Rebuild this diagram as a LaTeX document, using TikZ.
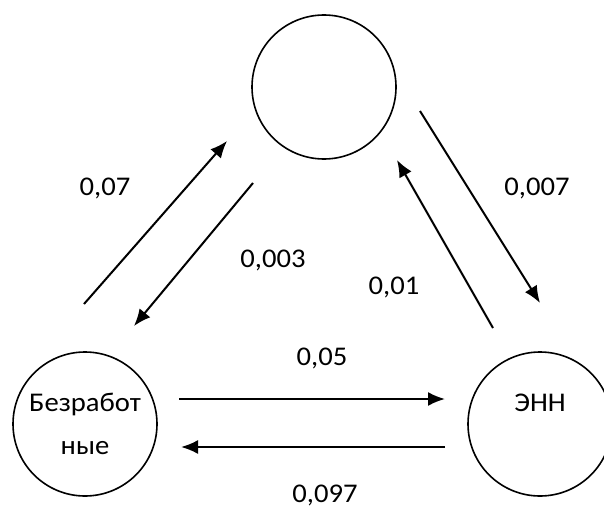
\documentclass[tikz,border=0pt]{standalone}
\usepackage{fontspec}
\setmainfont{Carlito}[FakeStretch=1.06]
\usetikzlibrary{arrows.meta}

\begin{document}
\begin{tikzpicture}[x=1pt, y=-1pt, >={Latex[length=17pt,width=14pt]},
  font=\fontsize{27}{43}\selectfont,
  state/.style={draw, circle, line width=1.6pt, minimum size=144pt, inner sep=0pt, align=center},
  flow/.style={->, line width=2pt}]
  \useasboundingbox (0,0) rectangle (604,511);

  \node[state] (emp) at (324,87) {};
  \node[state] (unemp) at (85,424) {Безработ\\ные};
  \node[state] (enn) at (540,424) {ЭНН\\\phantom{ные}};

  \coordinate (a1) at (84,304);  \coordinate (a2) at (227,141);
  \coordinate (b1) at (253,183); \coordinate (b2) at (134,326);
  \coordinate (c1) at (420,111); \coordinate (c2) at (540,303);
  \coordinate (d1) at (493,328); \coordinate (d2) at (397,160);
  \coordinate (e1) at (179,399); \coordinate (e2) at (445,399);
  \coordinate (f1) at (445,447); \coordinate (f2) at (181,447);

  \draw[flow] (a1) -- (a2);
  \draw[flow] (b1) -- (b2);
  \draw[flow] (c1) -- (c2);
  \draw[flow] (d1) -- (d2);
  \draw[flow] (e1) -- (e2);
  \draw[flow] (f1) -- (f2);

  \node (la) at (105,188) {0,07};
  \node (lb) at (273,260) {0,003};
  \node (lc) at (537,188) {0,007};
  \node (ld) at (394,287) {0,01};
  \node (le) at (322,358) {0,05};
  \node (lf) at (325,495) {0,097};
\end{tikzpicture}
\end{document}
